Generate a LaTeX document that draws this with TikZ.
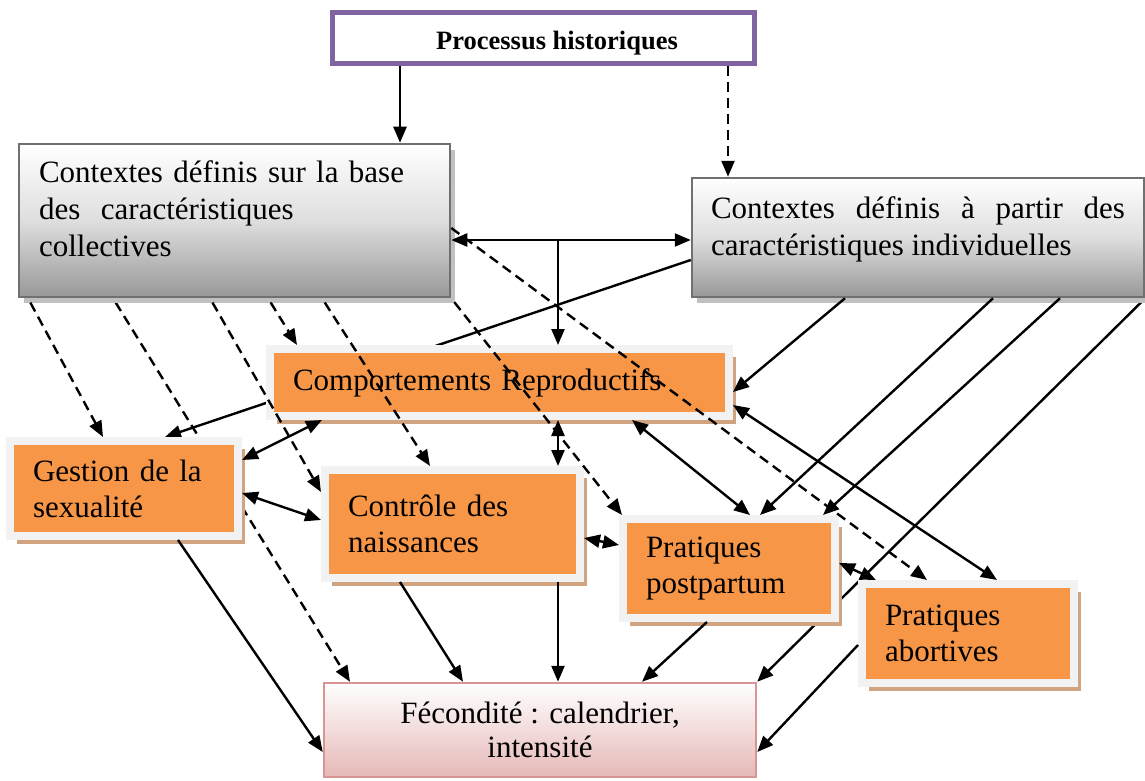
\documentclass[tikz,border=0pt]{standalone}
\usepackage{fontspec}
\setmainfont{Liberation Serif}
\usetikzlibrary{arrows.meta,shadows,backgrounds}
\hyphenpenalty=10000
\exhyphenpenalty=10000
\definecolor{orfill}{RGB}{247,150,70}
\definecolor{frgray}{RGB}{242,242,242}
\definecolor{tanshadow}{RGB}{208,164,128}
\definecolor{ctxline}{RGB}{112,112,112}
\definecolor{ctxend}{RGB}{152,152,152}
\definecolor{ctxmid}{RGB}{222,222,222}
\definecolor{ctxshadow}{RGB}{192,192,192}
\definecolor{fecline}{RGB}{217,149,148}
\definecolor{fecend}{RGB}{229,184,183}
\definecolor{histline}{RGB}{128,100,162}
\tikzset{
  histbox/.style={draw=histline, line width=5pt, fill=white, inner sep=0pt,
    font=\fontsize{26.5}{30}\selectfont\bfseries},
  ctxbox/.style={draw=ctxline, line width=2.5pt, top color=white, bottom color=ctxend,
    middle color=ctxmid, general shadow={fill=ctxshadow, shadow xshift=5pt, shadow yshift=-6pt},
    inner xsep=20pt, inner ysep=0pt, align=left, font=\fontsize{31}{37}\selectfont},
  orbox/.style={draw=frgray, line width=8pt, fill=orfill,
    general shadow={fill=tanshadow, shadow xshift=7pt, shadow yshift=-8pt},
    inner xsep=23pt, inner ysep=0pt, align=left, font=\fontsize{31}{36}\selectfont},
  fecbox/.style={draw=fecline, line width=2.5pt, top color=white, bottom color=fecend,
    inner sep=0pt, align=center, font=\fontsize{31}{34}\selectfont},
  link/.style={line width=2.4pt, ->},
  dashlink/.style={link, dash pattern=on 10pt off 6pt},
  >={Triangle[length=16pt,width=13pt]}
}
\begin{document}
\begin{tikzpicture}[x=1pt,y=-1pt]
\useasboundingbox (0,0) rectangle (1145,781);
\node [histbox, minimum width=422pt, minimum height=51pt, text height=28pt] (ph) at (543.5,38) {\hspace{27pt}Processus historiques};
\node [ctxbox, text width=391pt, minimum height=153pt, text depth=97pt] (cc) at (234.5,220.5)
  {Contextes définis sur la base\\des\ \ caractéristiques\\collectives};
\node [ctxbox, align=justify, text width=414pt, inner xsep=19pt, minimum height=119pt, text depth=59pt] (ci) at (918,237.5)
  {Contextes définis à partir des caractéristiques individuelles};
\node [orbox, text width=413pt, minimum height=67pt] (cr) at (499.5,382.5) {Comportements Reproductifs};
\node [orbox, text width=182pt, minimum height=95pt] (gs) at (124,488.5) {Gestion de la\\sexualité};
\node [orbox, text width=209pt, minimum height=108pt] (cn) at (452.5,524) {Contrôle des\\naissances};
\node [orbox, text width=166pt, minimum height=99pt] (pp) at (729,568.5) {Pratiques\\postpartum};
\node [orbox, text width=166pt, minimum height=99pt] (pa) at (968,633.5) {Pratiques\\abortives};
\node [fecbox, minimum width=432pt, minimum height=94pt] (fe) at (540,730) {Fécondité : calendrier,\\intensité};

% lines passing behind the boxes
\begin{scope}[on background layer]
\draw [link] (ci.west |- 0,260) -- (gs.north -| 165,0);
\draw [dashlink, shorten <=5pt] (cc.south -| 113,0) -- (fe.north -| 350,0);
\draw [link] (ci.south east) -- (fe.north east);
\end{scope}

\draw [link] (ph.south -| 400,0) -- (cc.north -| 400,0);
\draw [dashlink] (ph.south -| 728,0) -- (ci.north -| 728,0);
\draw [link, <->] (cc.east |- 0,240) -- (ci.west |- 0,240);
\coordinate (tj) at (558,240);
\draw [link] (tj) -- (cr.north -| 558,0);

\draw [dashlink, shorten <=5pt] (cc.south -| 28,0) -- (gs.north -| 103,0);
\draw [dashlink, shorten <=5pt] (cc.south -| 210,0) -- (cn.west |- 0,492);
\draw [dashlink, shorten <=5pt] (cc.south -| 268,0) -- (cr.north -| 297,0);
\draw [dashlink, shorten <=5pt] (cc.south -| 322,0) -- (cn.north -| 430,0);
\draw [dashlink, shorten <=5pt] (cc.south east) -- (pp.north -| 622,0);
\draw [dashlink] (cc.east |- 0,228) -- (pa.north -| 927,0);

\draw [link] (ci.south -| 845,0) -- (cr.east |- 0,392);
\foreach \a/\b in {993/760,1060/823}
  \draw [link] (ci.south -| \a,0) -- (pp.north -| \b,0);

\draw [link, <->] (cr.south -| 322,0) -- (gs.east |- 0,460);
\draw [link, <->] (gs.east |- 0,493) -- (cn.west |- 0,520);
\draw [link, <->] (cr.south -| 558,0) -- (cn.north -| 558,0);
\draw [link, <->] (cr.south -| 632,0) -- (pp.north -| 750,0);
\draw [link, <->] (cr.east |- 0,405) -- (pa.north -| 997,0);
\draw [link, <->] (cn.east |- 0,538) -- (pp.west |- 0,545);
\draw [link, <->] (pp.east |- 0,563) -- (pa.north -| 876,0);

\draw [link] (gs.south -| 178,0) -- (fe.west |- 0,752);
\draw [link] (cn.south -| 400,0) -- (fe.north -| 463,0);
\draw [link] (cn.south -| 558,0) -- (fe.north -| 558,0);
\draw [link] (pp.south -| 707,0) -- (fe.north -| 642,0);
\draw [link] (pa.west |- 0,645) -- (fe.east |- 0,752);
\end{tikzpicture}
\end{document}
